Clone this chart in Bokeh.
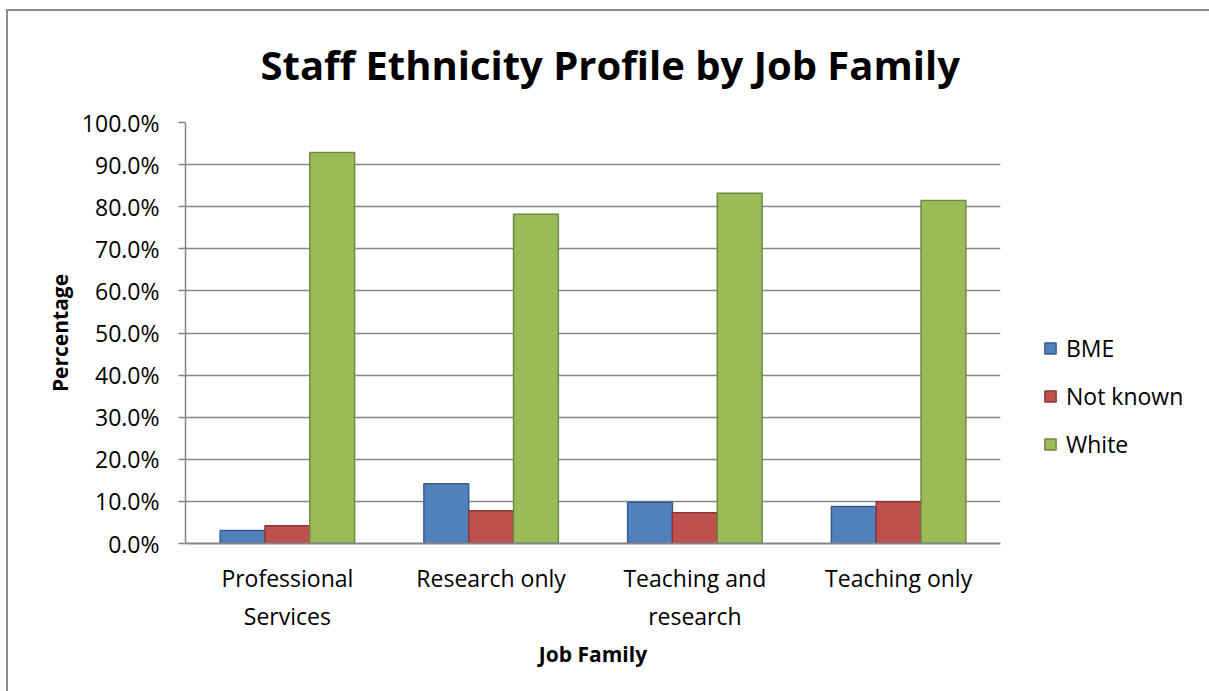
from bokeh.plotting import figure
from bokeh.models import (ColumnDataSource, FactorRange, Range1d, NumeralTickFormatter,
                          Legend, LegendItem, FixedTicker)
from bokeh.transform import dodge
from bokeh.embed import file_html
from bokeh.resources import INLINE

# ---- data ----
categories = ["Professional\nServices", "Research only", "Teaching and\nresearch", "Teaching only"]
series = ["BME", "Not known", "White"]
bme = [0.031, 0.142, 0.098, 0.088]
not_known = [0.042, 0.078, 0.073, 0.099]
white = [0.929, 0.782, 0.832, 0.815]
y_ticks = [0.0, 0.1, 0.2, 0.3, 0.4, 0.5, 0.6, 0.7, 0.8, 0.9, 1.0]

fills = ["#4F81BD", "#C0504D", "#9BBB59"]
lines = ["#385D8A", "#8C3836", "#71893F"]
FONT = "Open Sans"
GRID = "#868686"

src = ColumnDataSource(dict(cat=categories, bme=bme, nk=not_known, white=white))

p = figure(frame_width=815, frame_height=421, x_range=FactorRange(*categories), y_range=Range1d(0, 1),
           output_backend="svg", toolbar_location=None,
           min_border_left=185, min_border_right=209, min_border_top=122, min_border_bottom=148)

# outer chart border (left and top edges visible) drawn behind a transparent canvas
p.border_fill_alpha = 0
p.background_fill_color = "white"
p.styles = {
    "background-color": "white",
    "background-image": "linear-gradient(#8c8c8c,#8c8c8c), linear-gradient(#8c8c8c,#8c8c8c)",
    "background-size": "2px 700px, 1400px 2px",
    "background-position": "6px 9px, 6px 9px",
    "background-repeat": "no-repeat, no-repeat",
}

bw = 0.22
renderers = []
for col, off, fc, lc in zip(["bme", "nk", "white"], [-bw, 0.0, bw], fills, lines):
    r = p.vbar(x=dodge("cat", off, range=p.x_range), top=col, width=bw, source=src,
               fill_color=fc, line_color=lc, line_width=1.5)
    renderers.append(r)

# title
p.title.text = "Staff Ethnicity Profile by Job Family"
p.title.text_font = FONT
p.title.text_font_size = "40px"
p.title.text_font_style = "bold"
p.title.text_color = "#000000"
p.title.align = "left"
p.title.offset = 75
p.title.standoff = 61

# axes
p.outline_line_color = None
p.xgrid.grid_line_color = None
p.ygrid.grid_line_color = GRID
p.ygrid.grid_line_width = 1.5

ya = p.yaxis[0]
ya.ticker = FixedTicker(ticks=y_ticks)
ya.formatter = NumeralTickFormatter(format="0.0%")
ya.axis_line_color = GRID
ya.axis_line_width = 1.5
ya.major_tick_line_color = GRID
ya.major_tick_line_width = 1.5
ya.major_tick_in = 0
ya.major_tick_out = 7
ya.minor_tick_line_color = None
ya.major_label_text_font = FONT
ya.major_label_text_font_size = "23px"
ya.major_label_text_color = "#000000"
ya.major_label_standoff = 19
ya.axis_label = "Percentage"
ya.axis_label_text_font = FONT
ya.axis_label_text_font_size = "21px"
ya.axis_label_text_font_style = "bold"
ya.axis_label_text_color = "#000000"
ya.axis_label_standoff = 5

xa = p.xaxis[0]
xa.axis_line_color = GRID
xa.axis_line_width = 2
xa.major_tick_line_color = None
xa.major_tick_out = 0
xa.major_tick_in = 0
xa.major_label_text_font = FONT
xa.major_label_text_font_size = "23px"
xa.major_label_text_color = "#000000"
xa.major_label_standoff = 18
xa.axis_label = "Job Family"
xa.axis_label_text_font = FONT
xa.axis_label_text_font_size = "21px"
xa.axis_label_text_font_style = "bold"
xa.axis_label_text_color = "#000000"
xa.axis_label_standoff = 5

legend = Legend(items=[LegendItem(label=s, renderers=[r]) for s, r in zip(series, renderers)],
                location="top_left", orientation="vertical", padding=0, margin=43, spacing=16,
                glyph_width=14, glyph_height=14, label_standoff=9, label_height=28,
                label_text_font=FONT, label_text_font_size="23px", label_text_color="#000000",
                title=" ", title_text_font_size="1px", title_standoff=166,
                border_line_color=None, background_fill_alpha=0)
p.add_layout(legend, "right")

open("out.html", "w").write(file_html(p, INLINE))
